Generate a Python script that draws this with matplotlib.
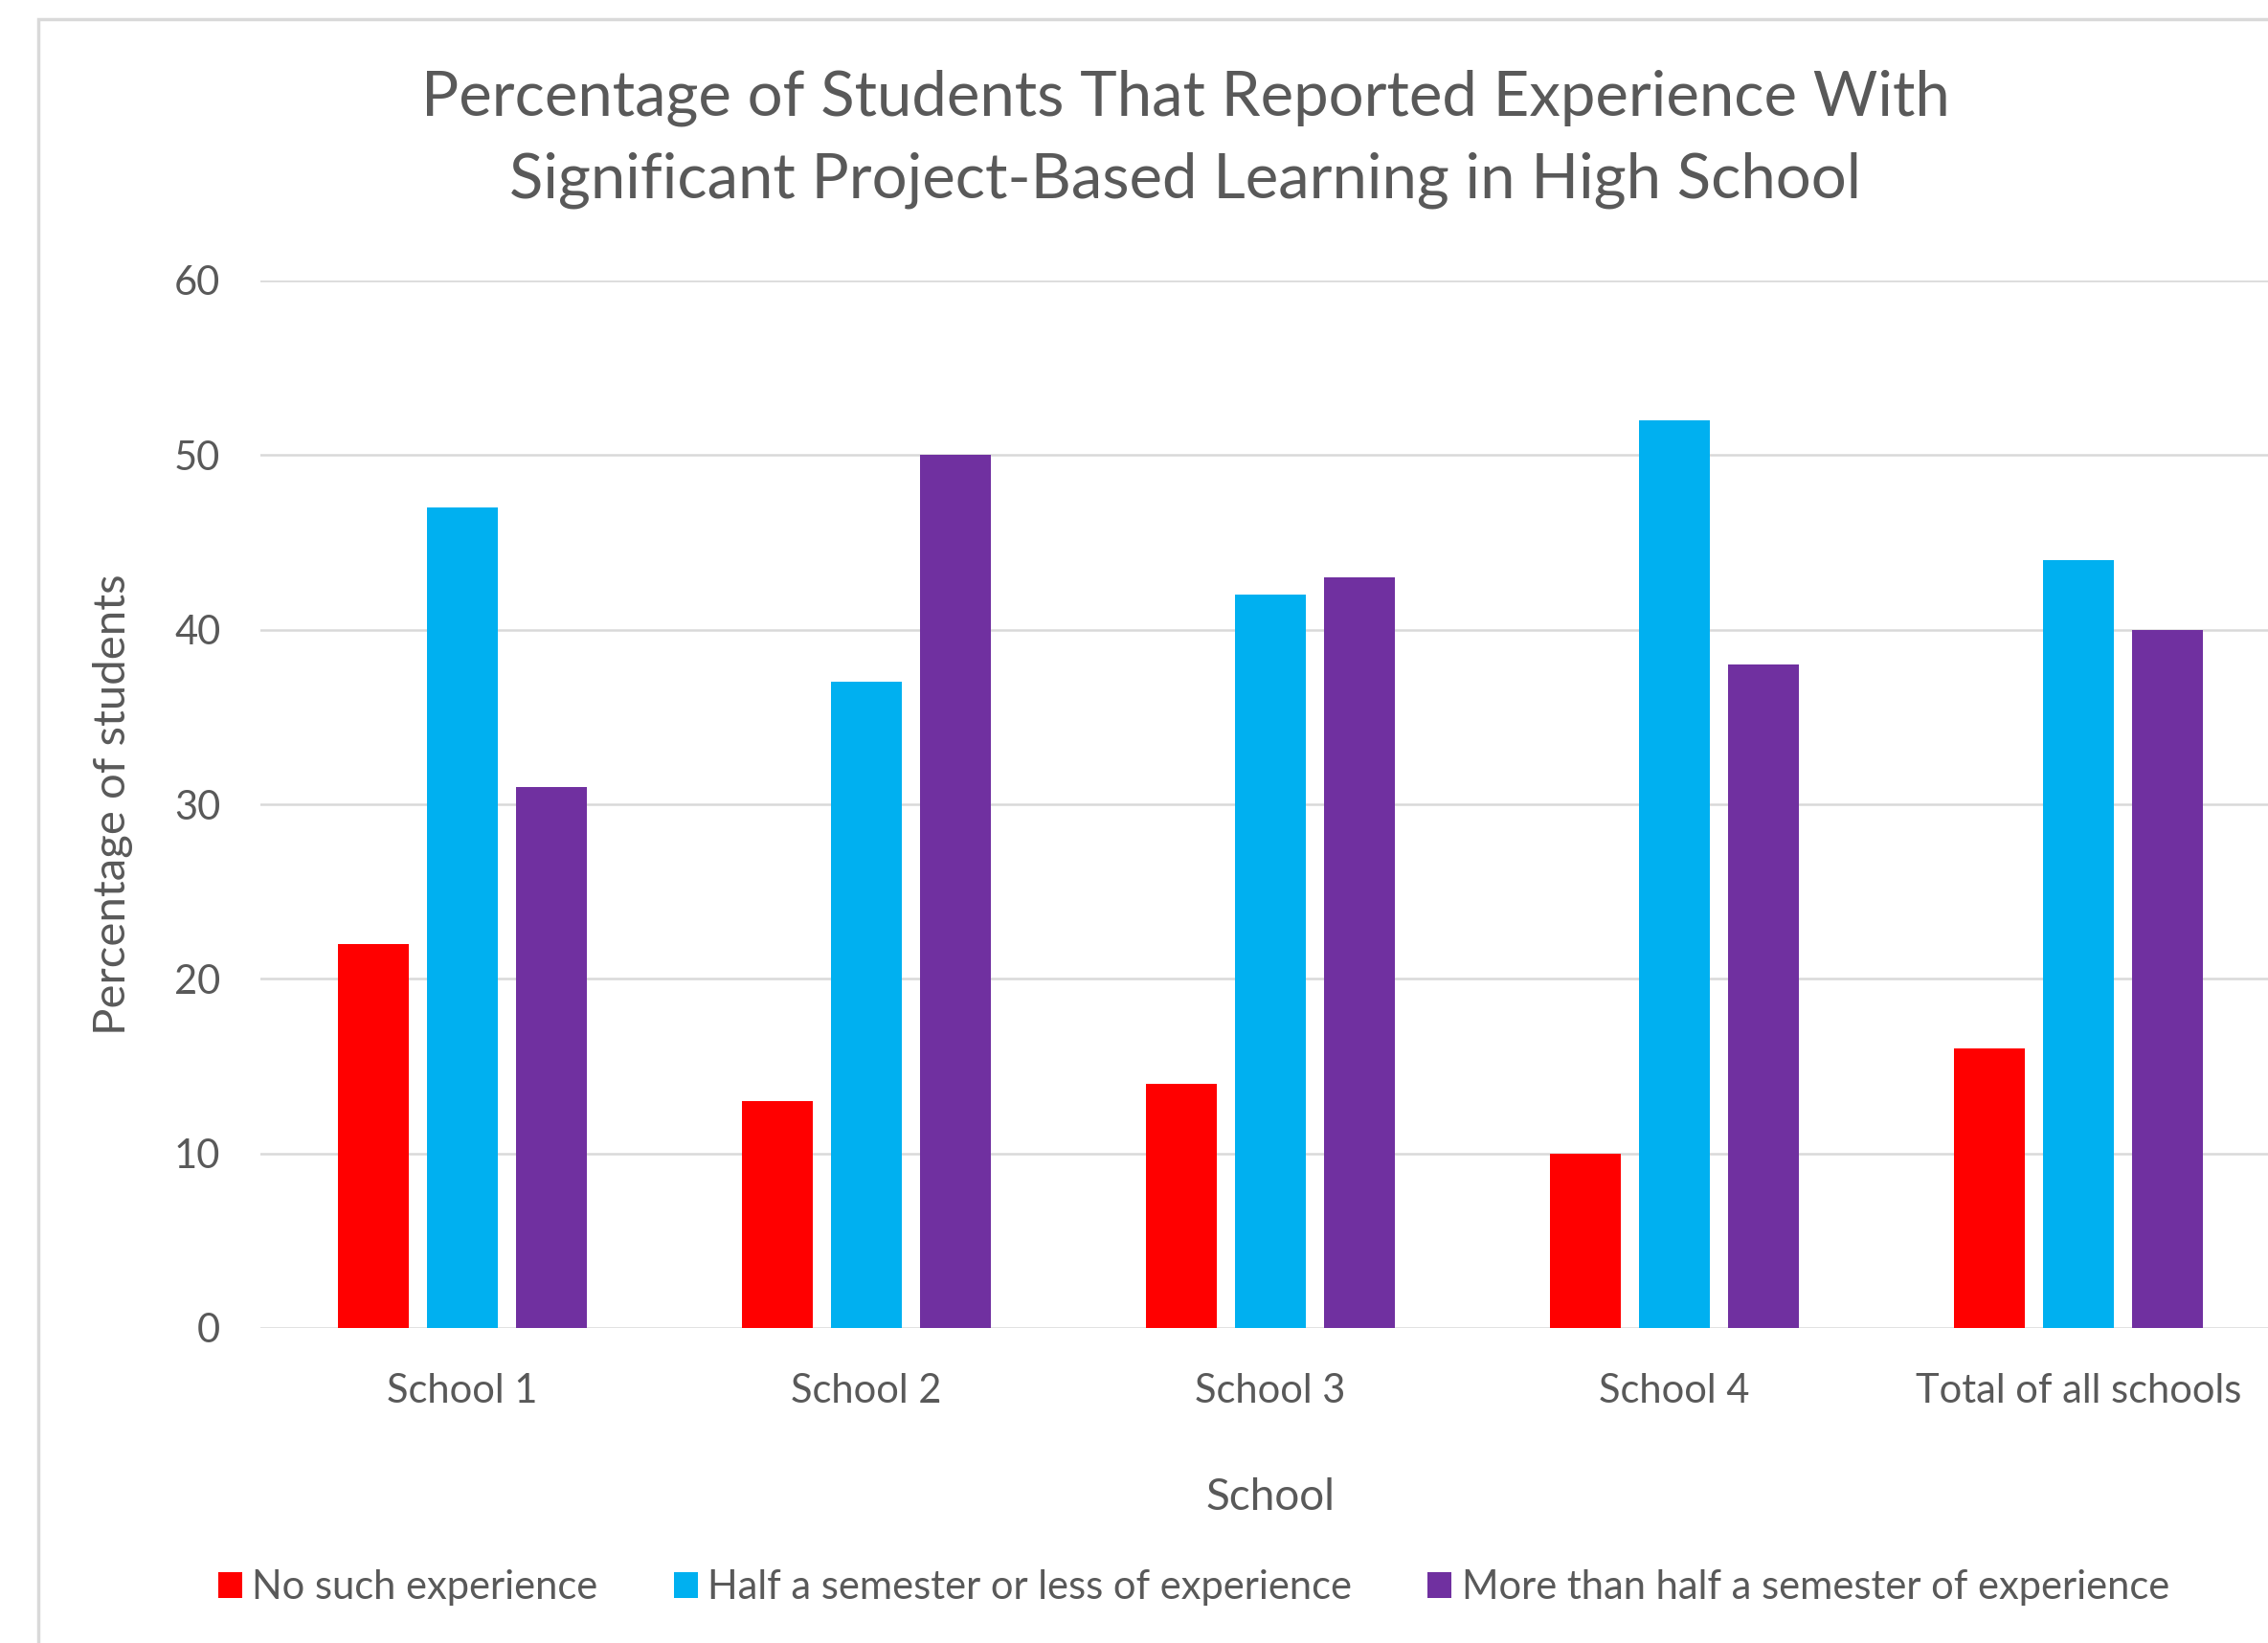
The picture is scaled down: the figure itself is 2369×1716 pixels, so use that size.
import matplotlib.pyplot as plt
from matplotlib.patches import Rectangle
import numpy as np

schools = ["School 1", "School 2", "School 3", "School 4", "Total of all schools"]
no_exp = [22, 13, 14, 10, 16]
half_or_less = [47, 37, 42, 52, 44]
more_than_half = [31, 50, 43, 38, 40]
series_names = ["No such experience", "Half a semester or less of experience",
                "More than half a semester of experience"]
colors = ["#FF0000", "#00B0F0", "#7030A0"]

plt.rcParams['font.family'] = ['Lato', 'DejaVu Sans']
grey = "#595959"

W, H = 2369, 1716
fig = plt.figure(figsize=(W / 100, H / 100), dpi=100)

# chart frame (runs off the right and bottom of the image)
fig.patches.append(Rectangle((40 / W, -0.05), 1.1, 1 - 20 / H + 0.05, transform=fig.transFigure,
                             fill=False, edgecolor="#D9D9D9", linewidth=2.5))

ax = fig.add_axes([272 / W, 1 - 1387 / H, 2110 / W, 1094 / H])
x = np.arange(len(schools))
w = 0.175
off = 0.22
for i, (vals, name) in enumerate(zip([no_exp, half_or_less, more_than_half], series_names)):
    ax.bar(x + (i - 1) * off, vals, width=w, color=colors[i], label=name, zorder=3)

ax.set_xlim(-0.5, 4.5)
ax.set_ylim(0, 60)
ax.set_yticks(range(0, 61, 10))
ax.set_xticks(x)
ax.set_xticklabels(schools)
ax.grid(axis="y", color="#D9D9D9", linewidth=1.8, zorder=0)
for s in ax.spines.values():
    s.set_visible(False)
ax.tick_params(length=0, labelsize=30, labelcolor=grey)
ax.tick_params(axis="y", pad=30)
ax.tick_params(axis="x", pad=34)

ax.set_ylabel("Percentage of students", fontsize=34, color=grey, labelpad=31)
fig.text(1327 / W, 1 - 1564 / H, "School", fontsize=33, color=grey, ha="center", va="center")
fig.text(1238 / W, 1 - 145 / H, "Percentage of Students That Reported Experience With\n"
         "Significant Project-Based Learning in High School",
         fontsize=47, color=grey, ha="center", va="center", linespacing=1.55)

handles, labels = ax.get_legend_handles_labels()
fig.legend(handles, labels, loc="center", bbox_to_anchor=(1247 / W, 1 - 1658 / H), ncol=3,
           frameon=False, fontsize=30, labelcolor=grey, handlelength=0.6, handleheight=0.6,
           handletextpad=0.25, columnspacing=1.9)

fig.savefig("out.png", dpi=100, facecolor="white")
